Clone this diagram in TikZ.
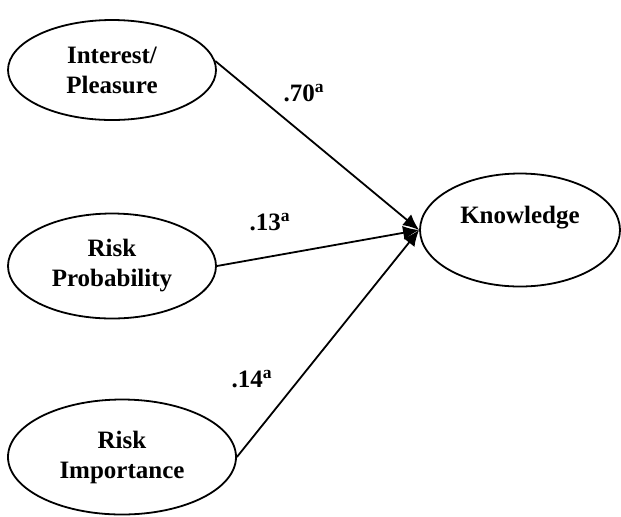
\documentclass[tikz,border=0pt]{standalone}
\usepackage{fontspec}
\setmainfont{Liberation Serif}
\usetikzlibrary{positioning,shapes,arrows.meta}

\tikzset{
  factor/.style={draw, ellipse, line width=0.9pt, inner sep=0pt, align=center,
    font=\fontsize{12.5}{15}\selectfont\bfseries},
  weight/.style={font=\fontsize{12.5}{15}\selectfont\bfseries, inner sep=0pt},
  path/.style={line width=0.9pt, -{Latex[length=8pt,width=7pt]}}
}

\begin{document}
\begin{tikzpicture}[x=0.5pt,y=-0.5pt]
\useasboundingbox (0,0) rectangle (621,516);

\node[factor, minimum width=104pt, minimum height=50pt] (ip) at (112,70) {Interest/\\Pleasure};
\node[factor, minimum width=104pt, minimum height=52.5pt] (rp) at (112,266) {Risk\\Probability};
\node[factor, minimum width=114pt, minimum height=57.5pt] (ri) at (122,457) {Risk\\Importance};
\node[factor, minimum width=100pt, minimum height=56.5pt] (kn) at (520,230) {Knowledge\\~};

\draw[path] (ip.5) -- (kn.west);
\draw[path] (rp.east) -- (kn.west);
\draw[path] (ri.east) -- (kn.west);

\node[weight] (w1) at (304,93) {.70\textsuperscript{a}};
\node[weight] (w2) at (270,222) {.13\textsuperscript{a}};
\node[weight] (w3) at (252,379) {.14\textsuperscript{a}};
\end{tikzpicture}
\end{document}
